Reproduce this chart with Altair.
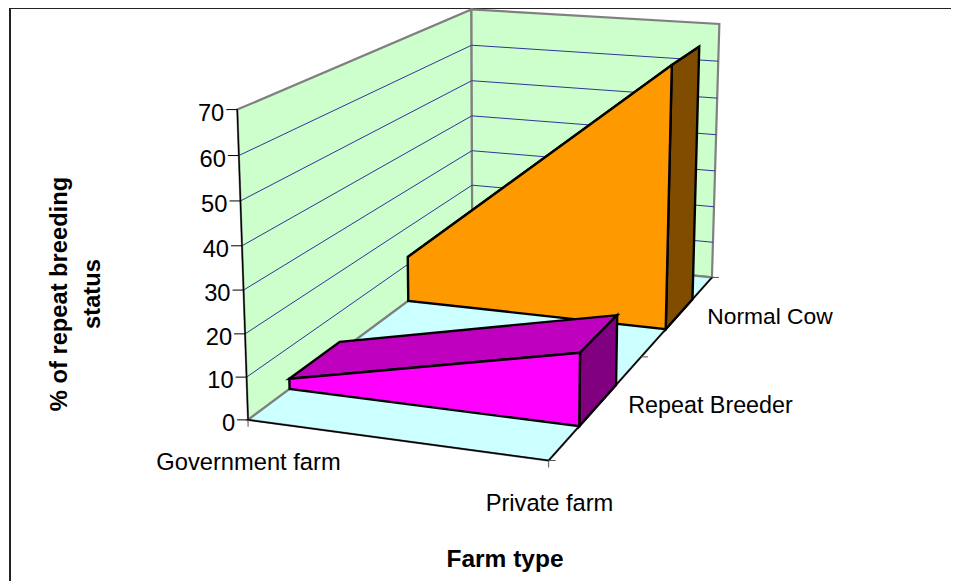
import numpy as np
import altair as alt

# ---- chart values ----
categories = ["Government farm", "Private farm"]
series = ["Repeat Breeder", "Normal Cow"]
repeat_values = [2.5, 17.0]
normal_values = [12.0, 67.5]
value_ticks = [0, 10, 20, 30, 40, 50, 60, 70]
y_max = 70
axis_title_x = "Farm type"
axis_title_y = ["% of repeat breeding", "status"]

# band of depth occupied by each series
bands = [(0.15, 0.35), (0.66, 0.85)]

# ---- perspective camera fitted to the box corners ----
corners = [
    ((0, 0, 0), (248, 419)), ((0, 0, 1), (237, 110)), ((1, 0, 0), (549, 461)),
    ((0, 1, 0), (472, 254)), ((0, 1, 1), (472, 9)), ((1, 1, 0), (712, 277)),
    ((1, 1, 1), (719, 24)),
]
rows = []
for (u, v, h), (sx, sy) in corners:
    rows.append([u, v, h, 1, 0, 0, 0, 0, -sx * u, -sx * v, -sx * h, -sx])
    rows.append([0, 0, 0, 0, u, v, h, 1, -sy * u, -sy * v, -sy * h, -sy])
P = np.linalg.svd(np.array(rows, float))[2][-1].reshape(3, 4)


def proj(u, v, val):
    s = P @ np.array([u, v, val / y_max, 1.0])
    return float(s[0] / s[2]), float(s[1] / s[2])


X = alt.X("x:Q", scale=alt.Scale(domain=[8, 951], nice=False, zero=False), axis=None)
Y = alt.Y("y:Q", scale=alt.Scale(domain=[581, 8], nice=False, zero=False), axis=None)


def path(pts, fill=None, stroke="#000000", sw=1.0, closed=True):
    vals = [{"x": p[0], "y": p[1], "i": i} for i, p in enumerate(pts)]
    kw = dict(stroke=stroke, strokeWidth=sw, strokeJoin="miter", clip=False)
    if closed:
        kw["interpolate"] = "linear-closed"
    if fill:
        kw["fill"] = fill
    return alt.Chart(alt.Data(values=vals)).mark_line(**kw).encode(
        x=X, y=Y, order=alt.Order("i:Q")
    )


def text(s, x, y, size=23.7, weight="normal", align="center", angle=0):
    kw = dict(font="Liberation Sans", fontSize=size, fontWeight=weight, color="#000000",
              align=align, baseline="middle")
    if angle:
        kw["angle"] = angle
    return alt.Chart(alt.Data(values=[{"x": x, "y": y, "t": s}])).mark_text(**kw).encode(
        x=X, y=Y, text="t:N"
    )


layers = []
WALL, FLOOR, GREY, GRID = "#CCFFCC", "#CCFFFF", "#808080", "#333399"

# frame
layers.append(path([(10, 581), (10, 8), (951, 8)], stroke="#222222", sw=2, closed=False))

# walls and floor
layers.append(path([proj(0, 0, 0), proj(0, 0, y_max), proj(0, 1, y_max), proj(0, 1, 0)],
                   fill=WALL, stroke=GREY, sw=2.2))
layers.append(path([proj(0, 1, 0), proj(0, 1, y_max), proj(1, 1, y_max), proj(1, 1, 0)],
                   fill=WALL, stroke=GREY, sw=2.2))
layers.append(path([proj(0, 0, 0), proj(1, 0, 0), proj(1, 1, 0), proj(0, 1, 0)],
                   fill=FLOOR, stroke=GREY, sw=2.2))
for t in value_ticks[1:-1]:
    layers.append(path([proj(0, 0, t), proj(0, 1, t), proj(1, 1, t)], stroke=GRID, sw=1, closed=False))

# floor front edges and value axis
layers.append(path([proj(0, 0, 0), proj(1, 0, 0), proj(1, 1, 0)], stroke="#000000", sw=1.5, closed=False))
layers.append(path([proj(0, 0, 0), proj(0, 0, y_max)], stroke="#000000", sw=1.3, closed=False))
for t in value_ticks:
    x0, y0 = proj(0, 0, t)
    layers.append(path([(x0, y0), (x0 - 11, y0)], stroke="#000000", sw=1, closed=False))
    layers.append(text(str(t), x0 - 13, y0 + 4, align="right"))
x0, y0 = proj(0, 0, 0)
layers.append(path([(x0, y0), (x0, y0 + 7)], stroke="#555555", sw=1, closed=False))
x0, y0 = proj(1, 0, 0)
layers.append(path([(x0, y0), (x0, y0 + 7)], stroke="#555555", sw=1, closed=False))
for v in (0.0, 0.5, 1.0):
    x0, y0 = proj(1, v, 0)
    layers.append(path([(x0, y0), (x0 + 7, y0)], stroke="#555555", sw=1, closed=False))

# area solids, back to front
solids = [
    (normal_values, bands[1], "#FF9900", "#7F4C00", "#BF7300"),
    (repeat_values, bands[0], "#FF00FF", "#800080", "#BF00BF"),
]
for vals, (vf, vb), front, side, top in solids:
    a, b = vals
    layers.append(path([proj(0, vf, a), proj(1, vf, b), proj(1, vb, b), proj(0, vb, a)],
                       fill=top, sw=2.4))
    layers.append(path([proj(1, vf, 0), proj(1, vf, b), proj(1, vb, b), proj(1, vb, 0)],
                       fill=side, sw=2.4))
    layers.append(path([proj(0, vf, 0), proj(0, vf, a), proj(1, vf, b), proj(1, vf, 0)],
                       fill=front, sw=2.4))

# labels
layers.append(text(categories[0], 248.5, 463))
layers.append(text(categories[1], 549.5, 504))
layers.append(text(series[0], 710.5, 406, size=23.3))
layers.append(text(series[1], 770, 317, size=22.8))
layers.append(text(axis_title_x, 505, 560, size=24.5, weight="bold"))
layers.append(text(axis_title_y[0], 60, 294, weight="bold", angle=270))
layers.append(text(axis_title_y[1], 93, 294, weight="bold", angle=270))

chart = alt.layer(*layers).properties(
    width=943, height=573, padding=0,
    autosize=alt.AutoSizeParams(type="none"),
    background="#FFFFFF",
).configure_view(stroke=None)

chart.save("out.html", embed_options={"renderer": "svg", "actions": False})
